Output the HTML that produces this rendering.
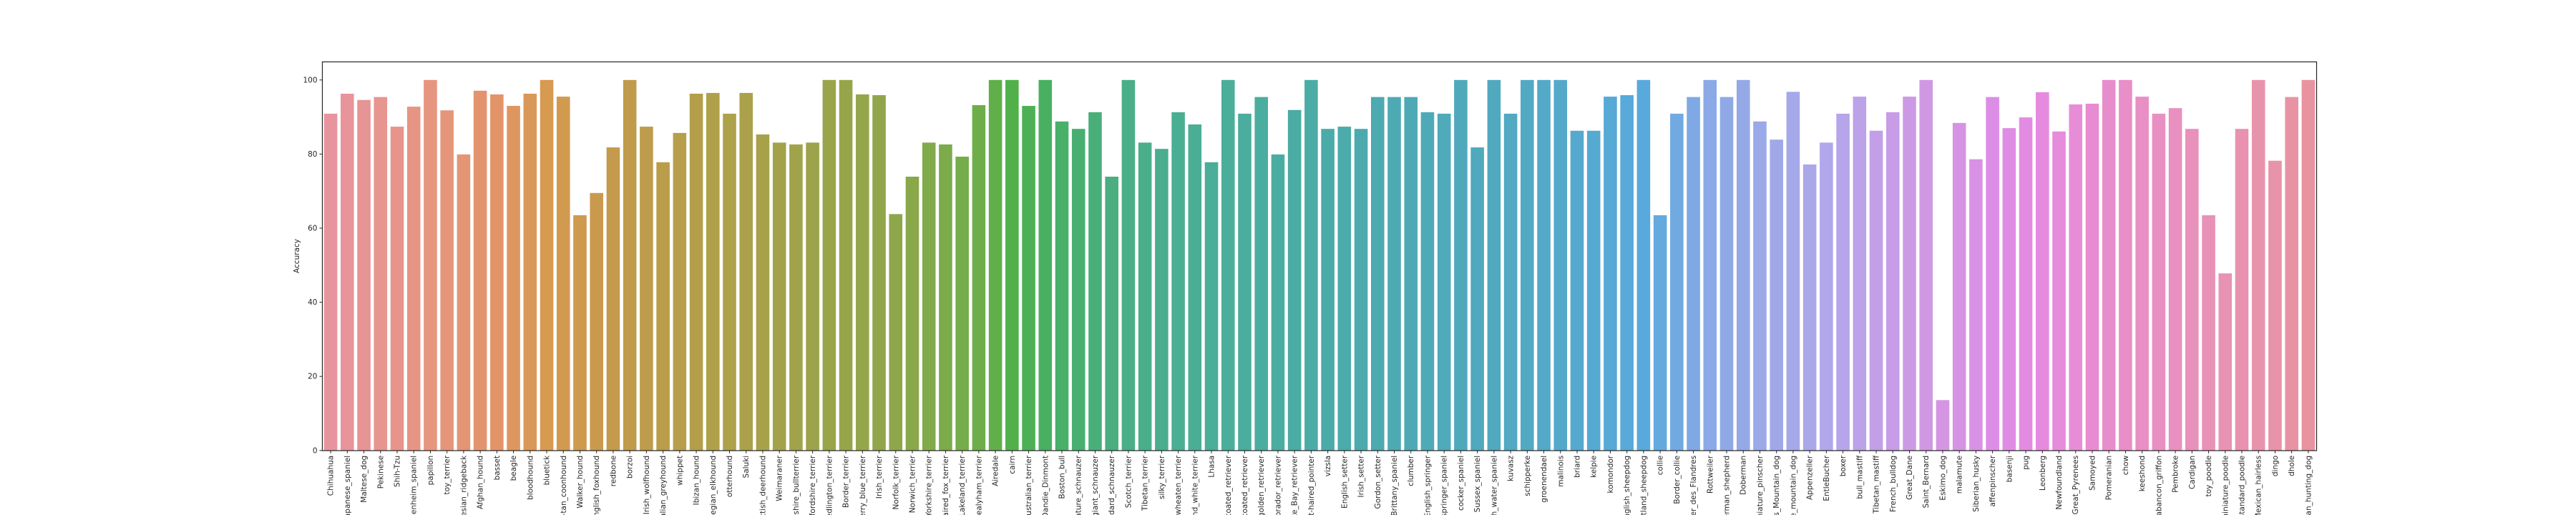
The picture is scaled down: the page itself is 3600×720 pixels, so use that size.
<!DOCTYPE html>
<html><head><meta charset="utf-8"><style>
html,body{margin:0;padding:0;background:#fff;width:3600px;height:720px;overflow:hidden}
svg{display:block}
svg text{font-family:"DejaVu Sans","Liberation Sans",sans-serif;fill:#262626}
</style></head><body>
<svg id="chart" width="3600" height="720" xmlns="http://www.w3.org/2000/svg" overflow="hidden">
<defs><clipPath id="frameclip"><rect x="0" y="0" width="3600" height="720"/></clipPath></defs>
<g clip-path="url(#frameclip)">
<g id="bars"></g>
<g id="xaxis"></g>
<g id="yaxis"></g>
<rect x="450.5" y="86.5" width="2787" height="543.5" fill="none" stroke="#262626" stroke-width="1.2"/>
<text transform="translate(418,358) rotate(-90)" text-anchor="middle" font-size="10.5">Accuracy</text>
</g>
</svg>
<script>
const categories = ["Chihuahua","Japanese_spaniel","Maltese_dog","Pekinese","Shih-Tzu","Blenheim_spaniel","papillon","toy_terrier","Rhodesian_ridgeback","Afghan_hound","basset","beagle","bloodhound","bluetick","black-and-tan_coonhound","Walker_hound","English_foxhound","redbone","borzoi","Irish_wolfhound","Italian_greyhound","whippet","Ibizan_hound","Norwegian_elkhound",
"otterhound","Saluki","Scottish_deerhound","Weimaraner","Staffordshire_bullterrier","American_Staffordshire_terrier","Bedlington_terrier","Border_terrier","Kerry_blue_terrier","Irish_terrier","Norfolk_terrier","Norwich_terrier","Yorkshire_terrier","wire-haired_fox_terrier","Lakeland_terrier","Sealyham_terrier","Airedale","cairn","Australian_terrier","Dandie_Dinmont","Boston_bull","miniature_schnauzer","giant_schnauzer","standard_schnauzer","Scotch_terrier",
"Tibetan_terrier","silky_terrier","soft-coated_wheaten_terrier","West_Highland_white_terrier","Lhasa","flat-coated_retriever","curly-coated_retriever","golden_retriever","Labrador_retriever","Chesapeake_Bay_retriever","German_short-haired_pointer","vizsla","English_setter","Irish_setter","Gordon_setter","Brittany_spaniel","clumber","English_springer","Welsh_springer_spaniel","cocker_spaniel","Sussex_spaniel","Irish_water_spaniel","kuvasz","schipperke",
"groenendael","malinois","briard","kelpie","komondor","Old_English_sheepdog","Shetland_sheepdog","collie","Border_collie","Bouvier_des_Flandres","Rottweiler","German_shepherd","Doberman","miniature_pinscher","Greater_Swiss_Mountain_dog","Bernese_mountain_dog","Appenzeller","EntleBucher","boxer","bull_mastiff","Tibetan_mastiff","French_bulldog","Great_Dane","Saint_Bernard","Eskimo_dog",
"malamute","Siberian_husky","affenpinscher","basenji","pug","Leonberg","Newfoundland","Great_Pyrenees","Samoyed","Pomeranian","chow","keeshond","Brabancon_griffon","Pembroke","Cardigan","toy_poodle","miniature_poodle","standard_poodle","Mexican_hairless","dingo","dhole","African_hunting_dog"];
const accuracy = [90.9,96.3,94.6,95.4,87.4,92.8,100,91.8,79.9,97.1,96.1,93.0,96.3,100,95.5,63.5,69.5,81.8,100,87.4,77.8,85.7,96.3,96.5,
90.9,96.5,85.3,83.1,82.6,83.1,100,100,96.1,95.9,63.8,73.9,83.1,82.6,79.3,93.2,100,100,93.0,100,88.8,86.8,91.3,73.9,100,
83.1,81.4,91.3,88.0,77.8,100,90.9,95.4,79.9,91.9,100,86.8,87.4,86.8,95.4,95.4,95.4,91.3,90.9,100,81.8,100,90.9,100,
100,100,86.3,86.3,95.5,95.9,100,63.5,90.9,95.4,100,95.4,100,88.8,83.9,96.8,77.2,83.1,90.9,95.5,86.3,91.3,95.5,100,13.6,
88.4,78.6,95.4,87.0,89.9,96.7,86.1,93.4,93.6,100,100,95.5,90.9,92.4,86.8,63.5,47.8,86.8,100,78.2,95.4,100];
const yTicks = [0,20,40,60,80,100];

const X0=450.5, X1=3237.5, Y0=629.8, PXU=5.18;
const band=(X1-X0)/categories.length;
const xScale=i=>X0+band*i;
const yScale=v=>Y0-v*PXU;
const stops=[[0,'e8949f'],[6,'e6957f'],[10,'e29468'],[13,'d69a50'],[17,'c49a4c'],[23,'b0a04a'],[30,'9aa44a'],[34,'8ea74a'],[39,'6eae4a'],[41,'52b04a'],[43,'48b060'],[48,'4aae88'],[53,'4aae98'],[63,'4caab0'],[72,'52a9c4'],[79,'58aadc'],[83,'8aa9e6'],[90,'b0a8ea'],[94,'c89ce6'],[97,'d496e2'],[100,'dc8ee6'],[103,'e68ae0'],[107,'e88dcc'],[113,'e892b8'],[119,'e8939f']];
const hex=h=>[0,2,4].map(k=>parseInt(h.substr(k,2),16));
function col(i){for(let k=0;k<stops.length-1;k++){const a=stops[k],b=stops[k+1];if(i>=a[0]&&i<=b[0]){const t=(i-a[0])/(b[0]-a[0]);const ca=hex(a[1]),cb=hex(b[1]);return 'rgb('+ca.map((c,j)=>Math.round(c+(cb[j]-c)*t)).join(',')+')';}}return '#e8939f';}
const NS='http://www.w3.org/2000/svg';
const gb=document.getElementById('bars'),gx=document.getElementById('xaxis'),gy=document.getElementById('yaxis');
categories.forEach((c,i)=>{
  const v=accuracy[i];
  const r=document.createElementNS(NS,'rect');
  
  
  r.setAttribute('x',xScale(i)+band*0.1);r.setAttribute('width',band*0.8);
  r.setAttribute('y',yScale(v));r.setAttribute('height',Y0-yScale(v));
  r.setAttribute('fill',col(i));gb.appendChild(r);
  const cx=xScale(i)+band/2;
  const tk=document.createElementNS(NS,'line');
  
  
  tk.setAttribute('x1',cx);tk.setAttribute('x2',cx);tk.setAttribute('y1',Y0);tk.setAttribute('y2',Y0+4);
  tk.setAttribute('stroke','#262626');gx.appendChild(tk);
  const t=document.createElementNS(NS,'text');
  
  
  t.setAttribute('transform','translate('+(cx+3.5)+','+(Y0+7)+') rotate(-90)');
  t.setAttribute('text-anchor','end');t.setAttribute('font-size','10.5');
  t.textContent=c;gx.appendChild(t);
});
yTicks.forEach(v=>{
  const y=yScale(v);
  const tk=document.createElementNS(NS,'line');
  
  
  tk.setAttribute('x1',X0-4);tk.setAttribute('x2',X0);tk.setAttribute('y1',y);tk.setAttribute('y2',y);
  tk.setAttribute('stroke','#262626');gy.appendChild(tk);
  const t=document.createElementNS(NS,'text');
  
  
  t.setAttribute('x',X0-7);t.setAttribute('y',y+3.5);t.setAttribute('text-anchor','end');t.setAttribute('font-size','10.5');
  t.textContent=v;gy.appendChild(t);
});
</script>
</body></html>
